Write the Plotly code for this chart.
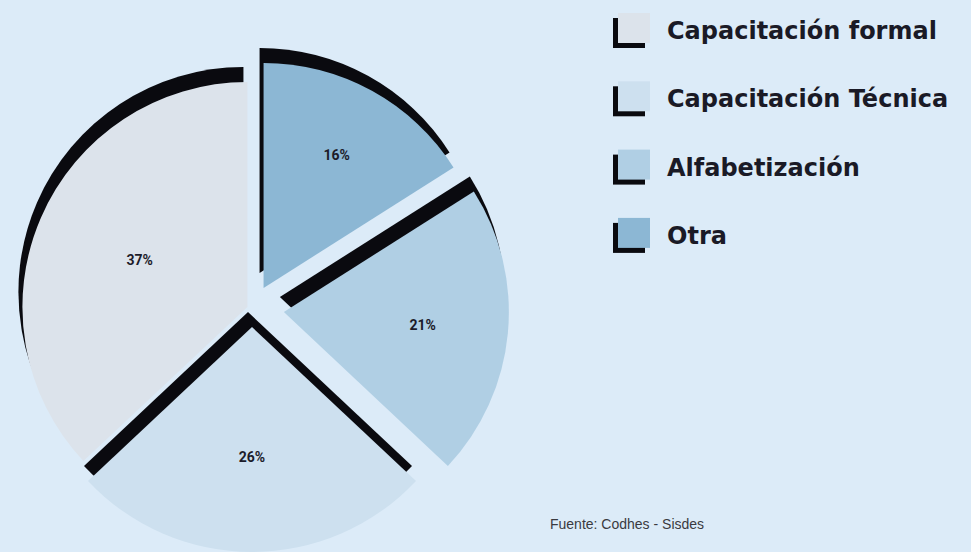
import math

import plotly.graph_objects as go

W, H = 971, 552

labels = ["Capacitación formal", "Capacitación Técnica", "Alfabetización", "Otra"]
shares = [37, 26, 21, 16]
colors = ["#dce3eb", "#cde0ef", "#b0cfe4", "#8cb7d4"]
source = "Fuente: Codhes - Sisdes"

BG = "#dcebf8"
SHADOW = "#0a0a0f"
CLEAR = "rgba(0,0,0,0)"

# pie geometry in pixels: radius, centre, how far each slice is pulled out
R = 225
CX, CY = 252, 309
PULL_PX = [5, 18, 32, 24]
SHADOW_DX, SHADOW_DY = -4, -15


def fx(x):
    return min(max(x / W, 0), 1)


def fy(y):
    return min(max(1 - y / H, 0), 1)


def domain(cx, cy):
    return {"x": [fx(cx - R), fx(cx + R)], "y": [fy(cy + R), fy(cy - R)]}


total = sum(shares)
# plotly puts the first slice clockwise of 12 o'clock when going counterclockwise,
# so turn it back by its own angle: "Capacitación formal" ends at the top
rot = -360 * shares[0] / total

# mid angle of every slice (degrees clockwise from 12 o'clock)
mids = []
cum = 0
for v in shares:
    a = 360 * v / total
    mids.append(-(cum + a / 2))
    cum += a

fig = go.Figure()
# each slice is its own pie (others transparent) so it can be pulled out freely;
# a black copy nudged up-left sits behind it and gives the thick dark edges
for layer in ("shadow", "slice"):
    for i, (lab, col) in enumerate(zip(labels, colors)):
        m = math.radians(mids[i])
        cx = CX + PULL_PX[i] * math.sin(m)
        cy = CY - PULL_PX[i] * math.cos(m)
        only = [j == i for j in range(len(shares))]
        if layer == "shadow":
            fig.add_pie(
                labels=labels, values=shares, sort=False,
                direction="counterclockwise", rotation=rot,
                domain=domain(cx + SHADOW_DX, cy + SHADOW_DY),
                marker={"colors": [SHADOW if o else CLEAR for o in only], "line": {"width": 0}},
                textinfo="none", hoverinfo="skip", showlegend=False,
            )
        else:
            fig.add_pie(
                labels=labels, values=shares, sort=False,
                direction="counterclockwise", rotation=rot,
                domain=domain(cx, cy),
                marker={"colors": [col if o else CLEAR for o in only], "line": {"width": 0}},
                text=[f"{v}%" if o else "" for v, o in zip(shares, only)],
                textinfo="text",
                textposition="inside",
                insidetextorientation="horizontal",
                textfont={"family": "Roboto", "size": 14, "color": "#1c1c2a", "weight": "bold"},
                hoverinfo="skip",
                showlegend=False,
            )

# hand-made legend: colored square with a black offset "shadow"
shapes = []
annotations = []
for i, (lab, col) in enumerate(zip(labels, colors)):
    top = 13 + i * 68.3
    shapes.append(dict(type="rect", xref="paper", yref="paper",
                       x0=fx(613), x1=fx(645), y0=fy(top + 35), y1=fy(top + 5),
                       fillcolor=SHADOW, line={"width": 0}))
    shapes.append(dict(type="rect", xref="paper", yref="paper",
                       x0=fx(618), x1=fx(650), y0=fy(top + 30), y1=fy(top),
                       fillcolor=col, line={"width": 0}))
    annotations.append(dict(text=lab, xref="paper", yref="paper",
                            x=fx(665), y=fy(top + 18), xanchor="left", yanchor="middle",
                            showarrow=False,
                            font={"family": "DejaVu Sans", "size": 24, "color": "#1a1a26",
                                  "weight": "bold"}))

annotations.append(dict(text=source, xref="paper", yref="paper",
                        x=fx(548), y=fy(524), xanchor="left", yanchor="middle",
                        showarrow=False,
                        font={"family": "Liberation Sans", "size": 14, "color": "#3a3a40"}))

fig.update_layout(
    width=W,
    height=H,
    margin=dict(l=0, r=0, t=0, b=0),
    paper_bgcolor=BG,
    plot_bgcolor=BG,
    shapes=shapes,
    annotations=annotations,
)

# drop the page's default body margin so the figure fills the window exactly
fig.write_html(
    "out.html",
    config={"displayModeBar": False},
    post_script="document.body.style.margin='0';",
)
